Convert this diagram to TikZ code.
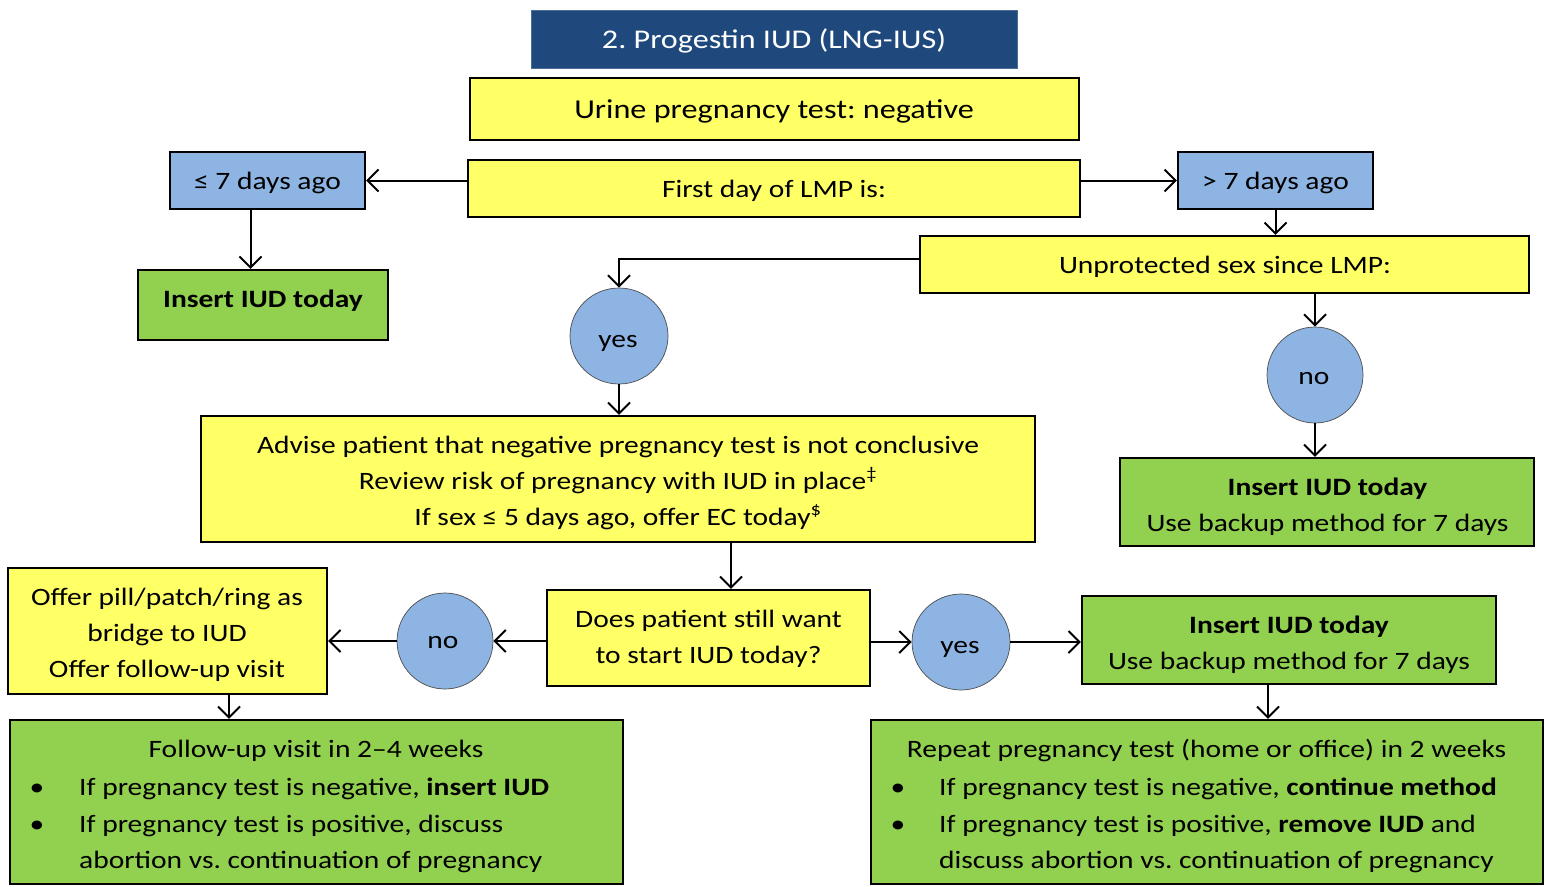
\documentclass[tikz,border=0pt]{standalone}
\usepackage{fontspec}
\setmainfont{Carlito}[FakeStretch=1.18]
\newfontfamily\titlefont{Carlito}[FakeStretch=1.19]
\usetikzlibrary{arrows.meta,shapes.geometric}
\definecolor{tblue}{RGB}{31,73,125}
\definecolor{yel}{RGB}{255,255,102}
\definecolor{lblue}{RGB}{141,180,226}
\definecolor{grn}{RGB}{146,208,80}
\begin{document}
\frenchspacing
\begin{tikzpicture}[x=1pt,y=-1pt,
  font=\fontsize{25}{36}\selectfont,
  box/.style={draw=black,line width=2.2pt,inner sep=0pt},
  ybox/.style={box,fill=yel},
  bbox/.style={box,fill=lblue},
  gbox/.style={box,fill=grn},
  titlebox/.style={fill=tblue,draw=tblue!80!white,line width=1pt,inner sep=0pt},
  circ/.style={ellipse,draw=black!70,line width=0.7pt,fill=lblue,inner sep=0pt},
  txt/.style={inner sep=0pt,anchor=base},
  ttl/.style={txt,text=white,font=\titlefont\fontsize{27}{36}\selectfont},
  arr/.style={line width=2pt,-{Straight Barb[length=11pt,width=22pt,line width=2pt]}}]
\useasboundingbox (0,0) rectangle (1546,886);

% boxes
\node[titlebox,minimum width=486pt,minimum height=58pt] (title) at (774,39) {};
\node[ybox,minimum width=609pt,minimum height=62pt] (urine) at (774.5,109) {};
\node[ybox,minimum width=612pt,minimum height=57pt] (first) at (774,188.5) {};
\node[bbox,minimum width=195pt,minimum height=57pt] (le7) at (267.5,180.5) {};
\node[bbox,minimum width=195pt,minimum height=57pt] (gt7) at (1275.5,180.5) {};
\node[gbox,minimum width=250pt,minimum height=70pt] (ins1) at (263,305) {};
\node[ybox,minimum width=609pt,minimum height=57pt] (unp) at (1224.5,264.5) {};
\node[circ,minimum width=98pt,minimum height=96pt] (yes1) at (619,336) {};
\node[circ,minimum width=96pt,minimum height=96pt] (no1) at (1315,375) {};
\node[ybox,minimum width=834pt,minimum height=126pt] (adv) at (618,479) {};
\node[gbox,minimum width=414pt,minimum height=88pt] (ins2) at (1327,502) {};
\node[ybox,minimum width=323pt,minimum height=96pt] (does) at (708.5,638) {};
\node[circ,minimum width=96pt,minimum height=96pt] (no2) at (445,641) {};
\node[ybox,minimum width=319pt,minimum height=126pt] (offer) at (167.5,631) {};
\node[circ,minimum width=98pt,minimum height=96pt] (yes2) at (961,642) {};
\node[gbox,minimum width=414pt,minimum height=88pt] (ins3) at (1289,640) {};
\node[gbox,minimum width=613pt,minimum height=164pt] (fol) at (316.5,802) {};
\node[gbox,minimum width=672pt,minimum height=164pt] (rep) at (1207,802) {};

% texts
\node[ttl] (titlet) at (774,48.5) {2.~Progestin IUD (LNG-IUS)};
\node[txt,font=\fontsize{27.3}{36}\selectfont] (urinet) at (774,118) {Urine pregnancy test: negative};
\node[txt] (firstt) at (774,197) {First day of LMP is:};
\node[txt] (le7t) at (267.5,189) {≤ 7 days ago};
\node[txt] (gt7t) at (1275.5,189) {> 7 days ago};
\node[txt,font=\fontsize{25}{36}\selectfont\bfseries] (ins1t) at (263,307) {Insert IUD today};
\node[txt] (unpt) at (1225,273) {Unprotected sex since LMP:};
\node[txt] (yes1t) at (618,347) {yes};
\node[txt] (no1t) at (1314,384) {no};
\node[txt] (adv1) at (618,453) {Advise patient that negative pregnancy test is not conclusive};
\node[txt] (adv2) at (618,489) {Review risk of pregnancy with IUD in place\textsuperscript{‡}};
\node[txt] (adv3) at (618,525) {If sex ≤ 5 days ago, offer EC today\textsuperscript{\$}};
\node[txt,font=\fontsize{25}{36}\selectfont\bfseries] (ins2a) at (1327.5,495) {Insert IUD today};
\node[txt] (ins2b) at (1327.5,531) {Use backup method for 7 days};
\node[txt] (does1) at (708.5,627) {Does patient still want};
\node[txt] (does2) at (708.5,663) {to start IUD today?};
\node[txt] (no2t) at (443,648) {no};
\node[txt] (offer1) at (167,605) {Offer pill/patch/ring as};
\node[txt] (offer2) at (167,641) {bridge to IUD};
\node[txt] (offer3) at (167,677) {Offer follow-up visit};
\node[txt] (yes2t) at (960,653) {yes};
\node[txt,font=\fontsize{25}{36}\selectfont\bfseries] (ins3a) at (1289,633) {Insert IUD today};
\node[txt] (ins3b) at (1289,669) {Use backup method for 7 days};

% text in follow-up box
\node[txt] (folt) at (316,757) {Follow-up visit in 2–4 weeks};
\node[txt] (folb1) at (37,795) {•};
\node[txt,anchor=base west] (fol1) at (79,795) {If pregnancy test is negative, \textbf{insert IUD}};
\node[txt] (folb2) at (37,832) {•};
\node[txt,anchor=base west] (fol2) at (79,832) {If pregnancy test is positive, discuss};
\node[txt,anchor=base west] (fol3) at (79,868) {abortion vs. continuation of pregnancy};

% text in repeat box
\node[txt] (rept) at (1206.5,757) {Repeat pregnancy test (home or office) in 2 weeks};
\node[txt] (repb1) at (898,795) {•};
\node[txt,anchor=base west] (rep1) at (939,795) {If pregnancy test is negative, \textbf{continue method}};
\node[txt] (repb2) at (898,832) {•};
\node[txt,anchor=base west] (rep2) at (939,832) {If pregnancy test is positive, \textbf{remove IUD} and};
\node[txt,anchor=base west] (rep3) at (939,868) {discuss abortion vs. continuation of pregnancy};

% connectors
\draw[arr] (first.west |- le7.east) -- (le7.east);
\draw[arr] (first.east |- gt7.west) -- (gt7.west);
\draw[arr] ([xshift=-17pt]le7.south) -- ([xshift=-17pt]le7.south |- ins1.north);
\draw[arr] (gt7.south) -- (gt7.south |- unp.north);
\draw[arr] ([yshift=6pt]unp.west) -| (yes1.north);
\draw[arr] (yes1.south) -- (yes1.south |- adv.north);
\draw[arr] (no1.north |- unp.south) -- (no1.north);
\draw[arr] (no1.south) -- (no1.south |- ins2.north);
\draw[arr] ([xshift=22.5pt]does.north |- adv.south) -- ([xshift=22.5pt]does.north);
\draw[arr] (does.west |- no2.east) -- (no2.east);
\draw[arr] (no2.west) -- (offer.east |- no2.west);
\draw[arr] (does.east |- yes2.west) -- (yes2.west);
\draw[arr] (yes2.east) -- (ins3.west |- yes2.east);
\draw[arr] ([xshift=-21pt]ins3.south) -- ([xshift=-21pt]ins3.south |- rep.north);
\draw[arr] ([xshift=61.5pt]offer.south) -- ([xshift=61.5pt]offer.south |- fol.north);
\end{tikzpicture}
\end{document}
